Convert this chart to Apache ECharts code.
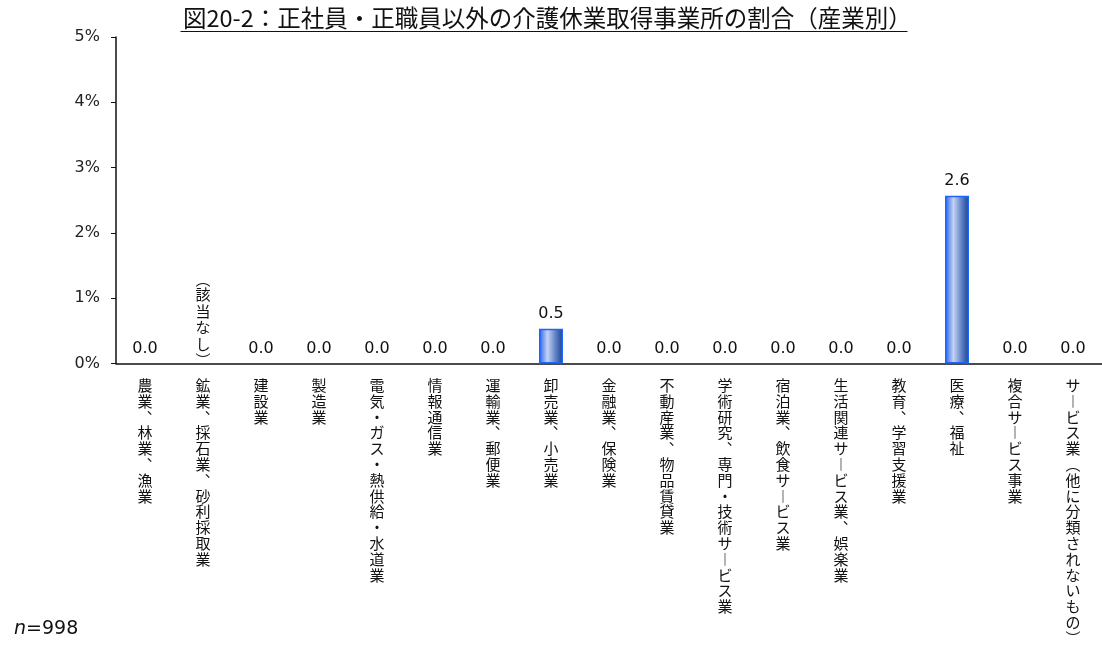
<!DOCTYPE html>
<html>
<head>
<meta charset="utf-8">
<script src="https://cdn.jsdelivr.net/npm/echarts@6/dist/echarts.min.js"></script>
<style>
html,body{margin:0;padding:0;background:#fff;}
#chart{width:1102px;height:646px;}
</style>
</head>
<body>
<div id="chart"></div>
<script>
const titleText = '図20-2：正社員・正職員以外の介護休業取得事業所の割合（産業別）';
const categories = [
  '農業、林業、漁業',
  '鉱業、採石業、砂利採取業',
  '建設業',
  '製造業',
  '電気・ガス・熱供給・水道業',
  '情報通信業',
  '運輸業、郵便業',
  '卸売業、小売業',
  '金融業、保険業',
  '不動産業、物品賃貸業',
  '学術研究、専門・技術サービス業',
  '宿泊業、飲食サービス業',
  '生活関連サービス業、娯楽業',
  '教育、学習支援業',
  '医療、福祉',
  '複合サービス事業',
  'サービス業（他に分類されないもの）'
];
// null = no data (該当なし)
const values = [0.0, null, 0.0, 0.0, 0.0, 0.0, 0.0, 0.53, 0.0, 0.0, 0.0, 0.0, 0.0, 0.0, 2.57, 0.0, 0.0];
const yTicks = [0, 1, 2, 3, 4, 5];
const noDataText = '（該当なし）';
const sampleN = '998';

const vmap = {'、':'︑','ー':'︱','（':'︵','）':'︶'};
function vertical(s){ return Array.from(s).map(c => vmap[c] || c).join('\n'); }
function verticalRich(s){
  return Array.from(s).map(c => {
    if (c === '（') return '{po|︵}';
    if (c === '）') return '{pc|︶}';
    return '{c|' + (vmap[c] || c) + '}';
  }).join('\n');
}

const jp = '"Noto Sans CJK JP", "DejaVu Sans", sans-serif';
const num = '"DejaVu Sans", "Noto Sans CJK JP", sans-serif';

const barGradient = new echarts.graphic.LinearGradient(0, 0, 1, 0, [
  {offset: 0, color: '#1f5cff'},
  {offset: 0.12, color: '#5a86f0'},
  {offset: 0.35, color: '#c4d3f2'},
  {offset: 0.7, color: '#5d7fc4'},
  {offset: 1, color: '#1c3f8c'}
]);

const chart = echarts.init(document.getElementById('chart'), null, {renderer: 'canvas'});
chart.setOption({
  animation: false,
  backgroundColor: '#ffffff',
  title: [{
    text: titleText,
    left: 178,
    top: 1,
    textStyle: {fontFamily: jp, fontSize: 23.5, fontWeight: 'normal', color: '#111'}
  }, {
    text: '{i|n}=' + sampleN,
    left: 9,
    top: 615,
    textStyle: {
      fontFamily: num, fontSize: 19, fontWeight: 'normal', color: '#111',
      rich: {i: {fontFamily: num, fontSize: 19, fontStyle: 'italic', color: '#111'}}
    }
  }],
  graphic: [{
    type: 'line',
    left: 178,
    top: 29,
    shape: {x1: 0, y1: 0, x2: 727, y2: 0},
    style: {stroke: '#111', lineWidth: 1.2}
  }],
  grid: {left: 116, right: 0, top: 37, bottom: 278, containLabel: false},
  xAxis: {
    type: 'category',
    data: categories,
    axisLine: {show: true, lineStyle: {color: '#111', width: 1.5}},
    axisTick: {show: false},
    axisLabel: {
      interval: 0,
      margin: 14,
      verticalAlign: 'top',
      fontFamily: jp,
      fontSize: 15,
      lineHeight: 15.8,
      color: '#111',
      formatter: v => vertical(v)
    }
  },
  yAxis: {
    type: 'value',
    min: yTicks[0],
    max: yTicks[yTicks.length - 1],
    interval: 1,
    splitLine: {show: false},
    axisLine: {show: true, lineStyle: {color: '#111', width: 1.5}},
    axisTick: {show: true, inside: false, length: 5, lineStyle: {color: '#111'}},
    axisLabel: {
      margin: 16,
      fontFamily: num,
      fontSize: 16,
      color: '#222',
      formatter: '{value}%'
    }
  },
  series: [{
    type: 'bar',
    data: values.map(v => ({
      value: v,
      itemStyle: (v === 0 ? {borderWidth: 0} : undefined)
    })),
    barWidth: 24,
    itemStyle: {color: barGradient, borderColor: '#1a66ff', borderWidth: 1.5},
    label: {
      show: true,
      position: 'top',
      distance: 7,
      fontFamily: num,
      fontSize: 16,
      color: '#111',
      formatter: p => (p.value == null ? '' : Number(p.value).toFixed(1))
    }
  }, {
    type: 'bar',
    barGap: '-100%',
    barWidth: 24,
    data: values.map(v => (v == null ? 0 : null)),
    itemStyle: {color: 'transparent', borderWidth: 0},
    silent: true,
    label: {
      show: true,
      position: 'top',
      distance: 3,
      color: '#111',
      formatter: () => verticalRich(noDataText),
      rich: {
        c: {fontFamily: jp, fontSize: 15, lineHeight: 16.5, color: '#111'},
        po: {fontFamily: jp, fontSize: 15, lineHeight: 8, padding: [0, 0, 7, 0], color: '#111'},
        pc: {fontFamily: jp, fontSize: 15, lineHeight: 8, padding: [7, 0, 0, 0], color: '#111'}
      }
    }
  }]
});
</script>
</body>
</html>
